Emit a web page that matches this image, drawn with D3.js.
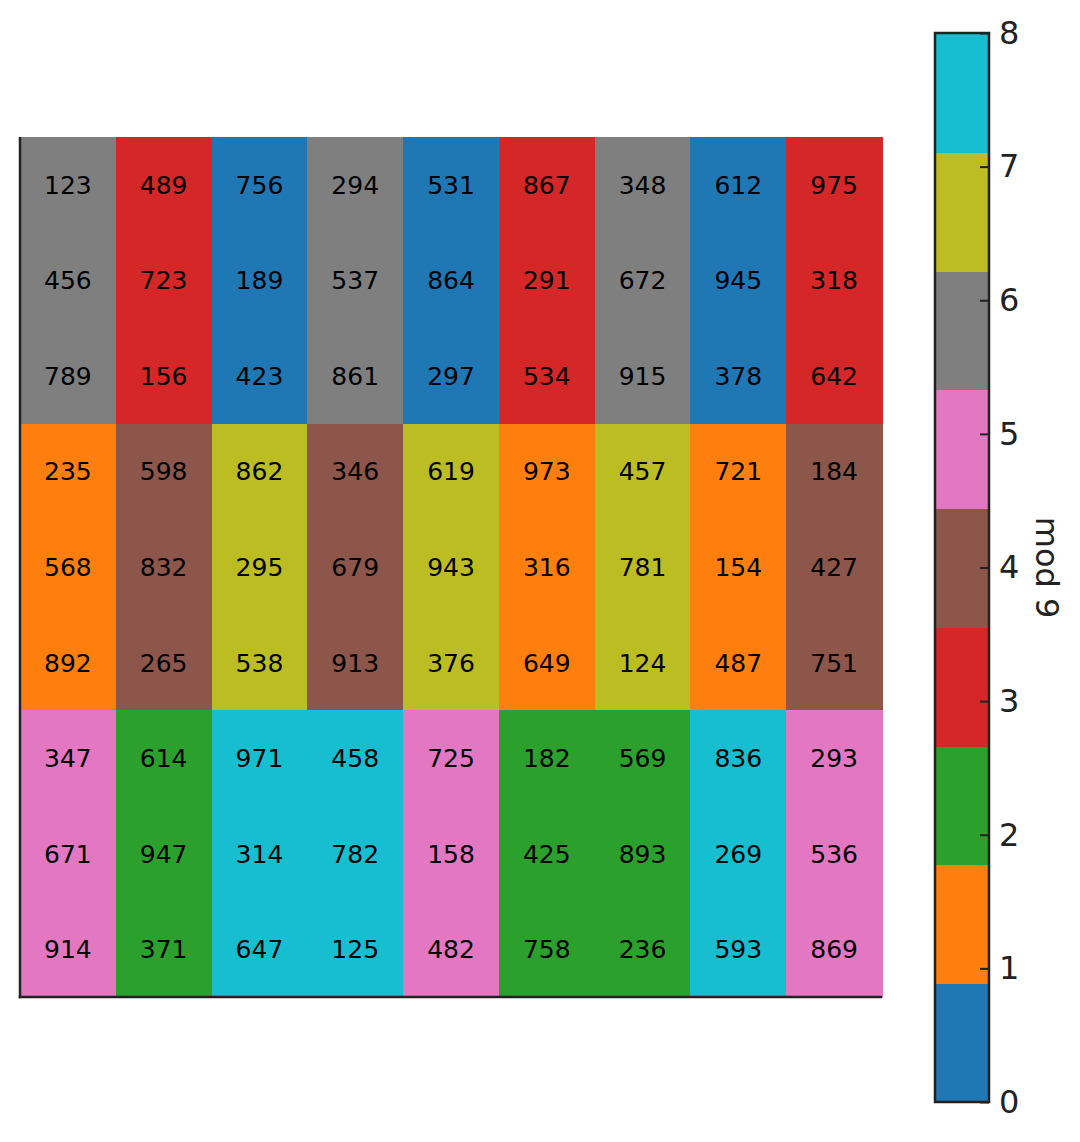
<!DOCTYPE html>
<html>
<head>
<meta charset="utf-8">
<script src="https://cdn.jsdelivr.net/npm/d3@7.9.0/dist/d3.min.js"></script>
<style>
  body { margin: 0; background: #fff; }
  svg { display: block; font-family: "DejaVu Sans", sans-serif; }
</style>
</head>
<body>
<svg id="chart" width="1080" height="1142"></svg>
<script>
// grid values, row by row (top to bottom)
const rows = [
  [123, 489, 756, 294, 531, 867, 348, 612, 975],
  [456, 723, 189, 537, 864, 291, 672, 945, 318],
  [789, 156, 423, 861, 297, 534, 915, 378, 642],
  [235, 598, 862, 346, 619, 973, 457, 721, 184],
  [568, 832, 295, 679, 943, 316, 781, 154, 427],
  [892, 265, 538, 913, 376, 649, 124, 487, 751],
  [347, 614, 971, 458, 725, 182, 569, 836, 293],
  [671, 947, 314, 782, 158, 425, 893, 269, 536],
  [914, 371, 647, 125, 482, 758, 236, 593, 869]
];
// one colour per remainder 0..8
const colors = ['#1f77b4', '#ff7f0e', '#2ca02c', '#d62728', '#8c564b',
                '#e377c2', '#7f7f7f', '#bcbd22', '#17becf'];
const cbTicks = [0, 1, 2, 3, 4, 5, 6, 7, 8];
const cbLabel = 'mod 9';

const svg = d3.select('#chart');
const ink = '#222';

// heatmap
const gLeft = 20, gRight = 882, gTop = 137, gBottom = 997;
const x = d3.scaleBand().domain(d3.range(9)).range([gLeft, gRight]);
const y = d3.scaleBand().domain(d3.range(9)).range([gTop, gBottom]);

const cells = rows.flatMap((r, i) => r.map((v, j) => ({ i, j, v })));

svg.append('g').selectAll('rect')
  .data(cells)
  .join('rect')
  .attr('x', d => x(d.j))
  .attr('y', d => y(d.i))
  .attr('width', x.bandwidth() + 1)
  .attr('height', y.bandwidth() + 1)
  .attr('shape-rendering', 'crispEdges')
  .attr('fill', d => colors[d.v % 9]);

svg.append('g').selectAll('text')
  .data(cells)
  .join('text')
  .attr('x', d => x(d.j) + x.bandwidth() / 2)
  .attr('y', d => y(d.i) + y.bandwidth() / 2)
  .attr('dy', '0.36em')
  .attr('text-anchor', 'middle')
  .attr('font-size', 25)
  .attr('fill', '#000')
  .text(d => d.v);

// only left and bottom spines
svg.append('line')
  .attr('x1', gLeft).attr('x2', gLeft).attr('y1', gTop).attr('y2', gBottom + 1.25)
  .attr('stroke', ink).attr('stroke-width', 2.5);
svg.append('line')
  .attr('x1', gLeft - 1.25).attr('x2', gRight).attr('y1', gBottom).attr('y2', gBottom)
  .attr('stroke', ink).attr('stroke-width', 2.5);

// colorbar
const cbX = 935, cbW = 54;
const cy = d3.scaleLinear().domain([0, 8]).range([1102, 33]);
const step = 8 / colors.length;

svg.append('g').selectAll('rect')
  .data(colors)
  .join('rect')
  .attr('x', cbX)
  .attr('width', cbW)
  .attr('y', (c, k) => cy((k + 1) * step))
  .attr('height', (c, k) => cy(k * step) - cy((k + 1) * step) + 1)
  .attr('shape-rendering', 'crispEdges')
  .attr('fill', c => c);

svg.append('rect')
  .attr('x', cbX).attr('y', cy(8))
  .attr('width', cbW).attr('height', cy(0) - cy(8))
  .attr('fill', 'none').attr('stroke', ink).attr('stroke-width', 2.5);

const cbAxis = svg.append('g')
  .attr('transform', `translate(${cbX + cbW},0)`)
  .call(d3.axisRight(cy).tickValues(cbTicks).tickFormat(d3.format('d'))
    .tickSizeInner(-9).tickSizeOuter(0).tickPadding(10));
cbAxis.select('.domain').remove();
cbAxis.selectAll('line').attr('stroke', ink).attr('stroke-width', 2);
cbAxis.selectAll('text')
  .attr('font-size', 32)
  .attr('fill', ink)
  .attr('font-family', '"DejaVu Sans", sans-serif');

svg.append('text')
  .attr('transform', `translate(1036,${cy(4)}) rotate(90)`)
  .attr('text-anchor', 'middle')
  .attr('font-size', 32)
  .attr('fill', ink)
  .text(cbLabel);
</script>
</body>
</html>
